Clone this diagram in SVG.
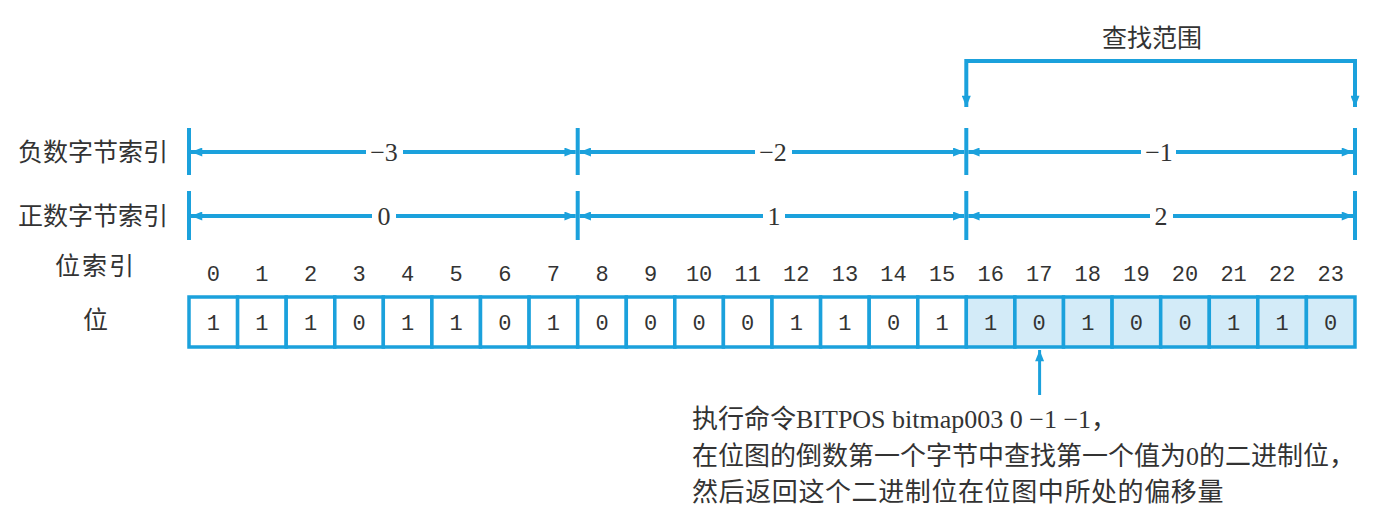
<svg xmlns="http://www.w3.org/2000/svg" width="1392" height="506" viewBox="0 0 1392 506">
<style>
.cjk{font-family:"Noto Sans CJK SC","Liberation Serif",sans-serif;fill:#333;}
.lab{font-family:"Liberation Serif","Noto Sans CJK SC",serif;fill:#333;}
.mono{font-family:"Liberation Mono",monospace;fill:#333;font-size:22px;text-anchor:middle;}
.dim{stroke:#1ba1dc;stroke-width:4;fill:none;}
.tick{stroke:#1ba1dc;stroke-width:4;}
.cell{fill:#fff;stroke:#1ba1dc;stroke-width:3.5;}
.hi{fill:#d3ebf8;}
</style>
<defs>
<marker id="ah" viewBox="0 0 10 8" markerWidth="12" markerHeight="9" refX="10" refY="4" orient="auto-start-reverse" markerUnits="userSpaceOnUse">
<path d="M0,0 L10,4 L0,8 z" fill="#1ba1dc"/>
</marker>
</defs>
<rect width="1392" height="506" fill="#fff"/>
<g id="row-labels">
<text class="cjk" x="18" y="161" font-size="25">负数字节索引</text>
<text class="cjk" x="18" y="225" font-size="25">正数字节索引</text>
<text class="cjk" x="55" y="275" font-size="25" letter-spacing="2">位索引</text>
<text class="cjk" x="83" y="329" font-size="25">位</text>
</g>
<g id="connectors">
<line class="tick" x1="189" y1="128" x2="189" y2="175"/>
<line class="tick" x1="577.7" y1="128" x2="577.7" y2="175"/>
<line class="tick" x1="966.3" y1="128" x2="966.3" y2="175"/>
<line class="tick" x1="1355" y1="128" x2="1355" y2="175"/>
<line class="tick" x1="189" y1="191" x2="189" y2="240"/>
<line class="tick" x1="577.7" y1="191" x2="577.7" y2="240"/>
<line class="tick" x1="966.3" y1="191" x2="966.3" y2="240"/>
<line class="tick" x1="1355" y1="191" x2="1355" y2="240"/>
<path class="dim" d="M366,152 H191" marker-end="url(#ah)"/>
<path class="dim" d="M403,152 H575.7" marker-end="url(#ah)"/>
<path class="dim" d="M755,152 H579.7" marker-end="url(#ah)"/>
<path class="dim" d="M792,152 H964.3" marker-end="url(#ah)"/>
<path class="dim" d="M1141,152 H968.3" marker-end="url(#ah)"/>
<path class="dim" d="M1176,152 H1353" marker-end="url(#ah)"/>
<path class="dim" d="M372,216 H191" marker-end="url(#ah)"/>
<path class="dim" d="M396,216 H575.7" marker-end="url(#ah)"/>
<path class="dim" d="M763,216 H579.7" marker-end="url(#ah)"/>
<path class="dim" d="M785,216 H964.3" marker-end="url(#ah)"/>
<path class="dim" d="M1150,216 H968.3" marker-end="url(#ah)"/>
<path class="dim" d="M1173,216 H1353" marker-end="url(#ah)"/>
<path class="dim" d="M966.3,107 V61 H1355 V107" marker-start="url(#ah)" marker-end="url(#ah)"/>
<path class="dim" d="M1039.6,395 V350" marker-end="url(#ah)" style="stroke-width:3"/>
</g>
<g id="dim-labels">
<text class="lab" x="384" y="161" font-size="26" text-anchor="middle">−3</text>
<text class="lab" x="773" y="161" font-size="26" text-anchor="middle">−2</text>
<text class="lab" x="1159" y="161" font-size="26" text-anchor="middle">−1</text>
<text class="lab" x="384" y="225" font-size="26" text-anchor="middle">0</text>
<text class="lab" x="774" y="225" font-size="26" text-anchor="middle">1</text>
<text class="lab" x="1161" y="225" font-size="26" text-anchor="middle">2</text>
<text class="cjk" x="1152" y="47" font-size="25" text-anchor="middle">查找范围</text>
</g>
<g id="bit-index" class="mono">
<text x="213.3" y="281">0</text><text x="261.9" y="281">1</text><text x="310.5" y="281">2</text><text x="359.0" y="281">3</text>
<text x="407.6" y="281">4</text><text x="456.2" y="281">5</text><text x="504.8" y="281">6</text><text x="553.4" y="281">7</text>
<text x="602.0" y="281">8</text><text x="650.6" y="281">9</text><text x="699.1" y="281">10</text><text x="747.7" y="281">11</text>
<text x="796.3" y="281">12</text><text x="844.9" y="281">13</text><text x="893.5" y="281">14</text><text x="942.1" y="281">15</text>
<text x="990.7" y="281">16</text><text x="1039.2" y="281">17</text><text x="1087.8" y="281">18</text><text x="1136.4" y="281">19</text>
<text x="1185.0" y="281">20</text><text x="1233.6" y="281">21</text><text x="1282.2" y="281">22</text><text x="1330.7" y="281">23</text>
</g>
<g id="bits">
<rect class="cell" x="189.0" y="297" width="48.58" height="50"/><rect class="cell" x="237.6" y="297" width="48.58" height="50"/>
<rect class="cell" x="286.2" y="297" width="48.58" height="50"/><rect class="cell" x="334.8" y="297" width="48.58" height="50"/>
<rect class="cell" x="383.3" y="297" width="48.58" height="50"/><rect class="cell" x="431.9" y="297" width="48.58" height="50"/>
<rect class="cell" x="480.5" y="297" width="48.58" height="50"/><rect class="cell" x="529.1" y="297" width="48.58" height="50"/>
<rect class="cell" x="577.7" y="297" width="48.58" height="50"/><rect class="cell" x="626.3" y="297" width="48.58" height="50"/>
<rect class="cell" x="674.8" y="297" width="48.58" height="50"/><rect class="cell" x="723.4" y="297" width="48.58" height="50"/>
<rect class="cell" x="772.0" y="297" width="48.58" height="50"/><rect class="cell" x="820.6" y="297" width="48.58" height="50"/>
<rect class="cell" x="869.2" y="297" width="48.58" height="50"/><rect class="cell" x="917.8" y="297" width="48.58" height="50"/>
<rect class="cell hi" x="966.3" y="297" width="48.58" height="50"/><rect class="cell hi" x="1014.9" y="297" width="48.58" height="50"/>
<rect class="cell hi" x="1063.5" y="297" width="48.58" height="50"/><rect class="cell hi" x="1112.1" y="297" width="48.58" height="50"/>
<rect class="cell hi" x="1160.7" y="297" width="48.58" height="50"/><rect class="cell hi" x="1209.3" y="297" width="48.58" height="50"/>
<rect class="cell hi" x="1257.8" y="297" width="48.58" height="50"/><rect class="cell hi" x="1306.4" y="297" width="48.58" height="50"/>
<g class="mono">
<text x="213.3" y="330">1</text><text x="261.9" y="330">1</text><text x="310.5" y="330">1</text><text x="359.0" y="330">0</text>
<text x="407.6" y="330">1</text><text x="456.2" y="330">1</text><text x="504.8" y="330">0</text><text x="553.4" y="330">1</text>
<text x="602.0" y="330">0</text><text x="650.6" y="330">0</text><text x="699.1" y="330">0</text><text x="747.7" y="330">0</text>
<text x="796.3" y="330">1</text><text x="844.9" y="330">1</text><text x="893.5" y="330">0</text><text x="942.1" y="330">1</text>
<text x="990.7" y="330">1</text><text x="1039.2" y="330">0</text><text x="1087.8" y="330">1</text><text x="1136.4" y="330">0</text>
<text x="1185.0" y="330">0</text><text x="1233.6" y="330">1</text><text x="1282.2" y="330">1</text><text x="1330.7" y="330">0</text>
</g>
</g>
<g id="note" class="lab" font-size="26">
<text x="692" y="428">执行命令BITPOS bitmap003 0 −1 −1，</text>
<text x="692" y="465">在位图的倒数第一个字节中查找第一个值为0的二进制位，</text>
<text x="692" y="501" letter-spacing="0.6">然后返回这个二进制位在位图中所处的偏移量</text>
</g>
</svg>
